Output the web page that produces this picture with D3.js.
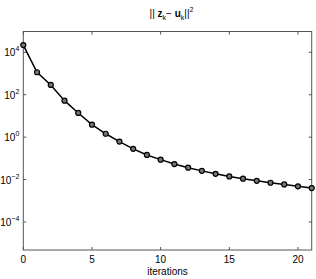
<!DOCTYPE html>
<html><head><meta charset="utf-8">
<script src="https://cdn.jsdelivr.net/npm/d3@7"></script>
<style>body{margin:0;background:#fff}svg{display:block}text{font-family:"Liberation Sans",Arial,sans-serif}</style>
</head><body><svg id="c" width="316" height="279"></svg>
<script>
const iterations = [0,1,2,3,4,5,6,7,8,9,10,11,12,13,14,15,16,17,18,19,20,21];
const logValues = [4.34,3.06,2.46,1.72,1.14,0.59,0.16,-0.21,-0.55,-0.84,-1.06,-1.27,-1.44,-1.59,-1.73,-1.85,-1.96,-2.06,-2.15,-2.23,-2.32,-2.40];
const values = logValues.map(v => Math.pow(10, v));
const xTicks = [0,5,10,15,20];
const yTickExps = [-4,-2,0,2,4];

const svg = d3.select("#c");
const L=23.3, R=311.7, T=31.5, B=250;
const x = d3.scaleLinear().domain([0,21]).range([L,R]);
const y = d3.scaleLog().domain([Math.pow(10,-5.32), Math.pow(10,4.98)]).range([B,T]);
const axisColor = "#555";

svg.append("rect").attr("x",L).attr("y",T).attr("width",R-L).attr("height",B-T)
  .attr("fill","none").attr("stroke",axisColor).attr("stroke-width",1);

const tl = 3;
xTicks.forEach(t=>{
  const px = x(t);
  svg.append("line").attr("x1",px).attr("x2",px).attr("y1",B).attr("y2",B-tl).attr("stroke",axisColor);
  svg.append("line").attr("x1",px).attr("x2",px).attr("y1",T).attr("y2",T+tl).attr("stroke",axisColor);
  svg.append("text").attr("x",px).attr("y",B+13).attr("text-anchor","middle").attr("font-size",10).attr("fill","#000").text(t);
});
yTickExps.forEach(e=>{
  const py = y(Math.pow(10,e));
  svg.append("line").attr("x1",L).attr("x2",L+tl).attr("y1",py).attr("y2",py).attr("stroke",axisColor);
  svg.append("line").attr("x1",R).attr("x2",R-tl).attr("y1",py).attr("y2",py).attr("stroke",axisColor);
  const t = svg.append("text").attr("x",L-4).attr("y",py+4).attr("text-anchor","end").attr("font-size",10).attr("fill","#000");
  t.append("tspan").text("10");
  t.append("tspan").attr("font-size",7).attr("dy",-5).text(e<0 ? "\u2212"+(-e) : e);
});

const line = d3.line().x((d,i)=>x(iterations[i])).y(d=>y(d));
svg.append("path").datum(values).attr("d",line).attr("fill","none").attr("stroke","#000").attr("stroke-width",1.5);
svg.selectAll("circle.m").data(values).enter().append("circle").attr("class","m")
  .attr("cx",(d,i)=>x(iterations[i])).attr("cy",d=>y(d)).attr("r",2.5)
  .attr("fill","#777").attr("stroke","#000").attr("stroke-width",1.2);

svg.append("text").attr("x",(L+R)/2).attr("y",275).attr("text-anchor","middle").attr("font-size",10).text("iterations");

const title = svg.append("text").attr("x",(L+R)/2+4).attr("y",17).attr("text-anchor","middle").attr("font-size",10);
title.append("tspan").text("|| ");
title.append("tspan").attr("font-weight","bold").text("z");
title.append("tspan").attr("font-size",7).attr("dy",3).text("k");
title.append("tspan").attr("dy",-3).text("\u2212 ");
title.append("tspan").attr("font-weight","bold").text("u");
title.append("tspan").attr("font-size",7).attr("dy",3).text("k");
title.append("tspan").attr("dy",-3).text("||");
title.append("tspan").attr("font-size",7).attr("dy",-5).text("2");
</script></body></html>
